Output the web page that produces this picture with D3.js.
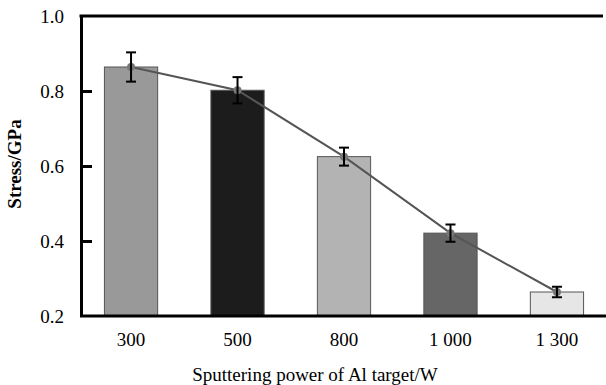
<!DOCTYPE html>
<html>
<head>
<meta charset="utf-8">
<script src="https://cdn.jsdelivr.net/npm/d3@7"></script>
<style>
  body { margin: 0; background: #fff; }
  svg { display: block; font-family: "Liberation Serif", "Times New Roman", serif; }
</style>
</head>
<body>
<div id="chart"></div>
<script>
// data
const powers = ["300", "500", "800", "1 000", "1 300"];
const stress = [0.864, 0.802, 0.625, 0.421, 0.264];
const errors = [0.039, 0.035, 0.024, 0.023, 0.014];
const barColors = ["#999999", "#1c1c1c", "#b3b3b3", "#666666", "#e6e6e6"];
const yTicks = [0.2, 0.4, 0.6, 0.8, 1.0];

const width = 606, height = 385;
const margin = { top: 16, right: -1, bottom: 70, left: 81 };
const serif = '"Liberation Serif", "Times New Roman", serif';

const svg = d3.select("#chart").append("svg")
  .attr("width", width)
  .attr("height", height);

const x = d3.scaleBand()
  .domain(powers)
  .range([margin.left, width - margin.right])
  .paddingInner(0.5)
  .paddingOuter(0.22);

const y = d3.scaleLinear()
  .domain([0.2, 1.0])
  .range([height - margin.bottom + 1, margin.top]);

const data = powers.map((p, i) => ({ power: p, value: stress[i], err: errors[i], color: barColors[i] }));

// bars
svg.append("g").selectAll("rect")
  .data(data)
  .join("rect")
  .attr("x", d => x(d.power))
  .attr("y", d => y(d.value))
  .attr("width", x.bandwidth())
  .attr("height", d => y(0.2) - y(d.value))
  .attr("fill", d => d.color)
  .attr("stroke", "#555")
  .attr("stroke-width", 1);

// trend line
const cx = d => x(d.power) + x.bandwidth() / 2;
const line = d3.line().x(cx).y(d => y(d.value));

svg.append("path")
  .datum(data)
  .attr("d", line)
  .attr("fill", "none")
  .attr("stroke", "#555")
  .attr("stroke-width", 2);

// markers
svg.append("g").selectAll("circle")
  .data(data)
  .join("circle")
  .attr("cx", cx)
  .attr("cy", d => y(d.value))
  .attr("r", 4)
  .attr("fill", "#777");

// error bars
const eb = svg.append("g")
  .attr("stroke", "#000")
  .attr("stroke-width", 2)
  .selectAll("g")
  .data(data)
  .join("g");

eb.append("line")
  .attr("x1", cx).attr("x2", cx)
  .attr("y1", d => y(d.value + d.err))
  .attr("y2", d => y(d.value - d.err));
eb.append("line")
  .attr("x1", d => cx(d) - 5).attr("x2", d => cx(d) + 5)
  .attr("y1", d => y(d.value + d.err))
  .attr("y2", d => y(d.value + d.err));
eb.append("line")
  .attr("x1", d => cx(d) - 5).attr("x2", d => cx(d) + 5)
  .attr("y1", d => y(d.value - d.err))
  .attr("y2", d => y(d.value - d.err));

// y axis (ticks point inward)
const yAxis = svg.append("g")
  .attr("transform", `translate(${margin.left},0)`)
  .call(d3.axisLeft(y).tickValues(yTicks).tickFormat(d3.format(".1f")).tickSizeInner(-11).tickSizeOuter(0).tickPadding(17))
  .attr("font-family", serif)
  .attr("font-size", 19);
yAxis.select(".domain").attr("stroke-width", 3);
yAxis.selectAll(".tick line").attr("stroke-width", 3);
yAxis.selectAll(".tick text").attr("fill", "#000");
yAxis.selectAll(".tick").filter(d => d === 0.2 || d === 1.0).select("line").remove();

// x axis
const xAxis = svg.append("g")
  .attr("transform", `translate(0,${y(0.2)})`)
  .call(d3.axisBottom(x).tickSize(0).tickPadding(17))
  .attr("font-family", serif)
  .attr("font-size", 19);
xAxis.select(".domain").attr("stroke-width", 3).attr("d", `M${margin.left - 1},0H${width}`);
xAxis.selectAll(".tick text").attr("fill", "#000");

// top frame line
svg.append("line")
  .attr("x1", margin.left - 1.5).attr("x2", 603)
  .attr("y1", y(1.0)).attr("y2", y(1.0))
  .attr("stroke", "#000")
  .attr("stroke-width", 3);

// axis titles
svg.append("text")
  .attr("x", 315)
  .attr("y", 381)
  .attr("text-anchor", "middle")
  .style("font-size", "19px")
  .text("Sputtering power of Al target/W");

svg.append("text")
  .attr("transform", "translate(21,164) rotate(-90)")
  .attr("text-anchor", "middle")
  .style("font-size", "19px")
  .style("font-weight", "bold")
  .text("Stress/GPa");
</script>
</body>
</html>
